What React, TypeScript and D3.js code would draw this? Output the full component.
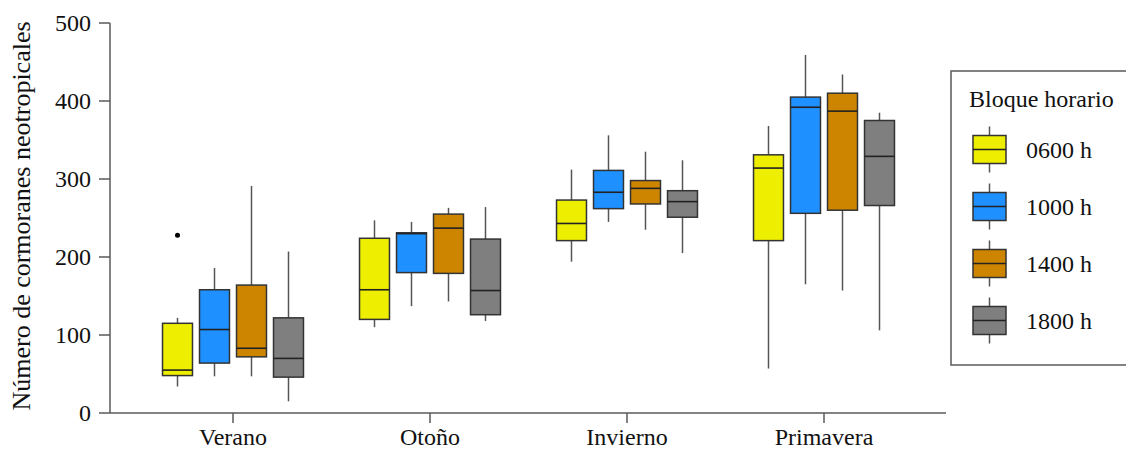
import React from "react";
import * as d3 from "d3";

const seasons = ["Verano", "Otoño", "Invierno", "Primavera"];
const blocks = ["0600 h", "1000 h", "1400 h", "1800 h"];
const colors = ["#EEEE00", "#1E90FF", "#CD8500", "#7F7F7F"];
const yTicks = [0, 100, 200, 300, 400, 500];

// per block: values per season [Verano, Otoño, Invierno, Primavera]
const low0600 = [34, 110, 194, 57];
const q1_0600 = [48, 120, 221, 221];
const med0600 = [55, 158, 243, 314];
const q3_0600 = [115, 224, 273, 331];
const high0600 = [122, 247, 312, 368];

const low1000 = [47, 137, 245, 165];
const q1_1000 = [64, 180, 262, 256];
const med1000 = [107, 230, 283, 392];
const q3_1000 = [158, 231, 311, 405];
const high1000 = [186, 245, 356, 459];

const low1400 = [47, 143, 235, 157];
const q1_1400 = [72, 179, 268, 260];
const med1400 = [83, 237, 288, 387];
const q3_1400 = [164, 255, 298, 410];
const high1400 = [291, 263, 335, 434];

const low1800 = [15, 118, 205, 106];
const q1_1800 = [46, 126, 251, 266];
const med1800 = [70, 157, 271, 329];
const q3_1800 = [122, 223, 285, 375];
const high1800 = [207, 264, 324, 385];

const outlierSeason = ["Verano"];
const outlierBlock = ["0600 h"];
const outlierValue = [228];

const stats = [
  [low0600, q1_0600, med0600, q3_0600, high0600],
  [low1000, q1_1000, med1000, q3_1000, high1000],
  [low1400, q1_1400, med1400, q3_1400, high1400],
  [low1800, q1_1800, med1800, q3_1800, high1800],
];

const FONT = "'Liberation Serif', 'Times New Roman', serif";

export default function App() {
  const W = 1126, H = 450;
  const y = d3.scaleLinear().domain([0, 500]).range([413, 23]);
  const x = d3.scaleBand<string>().domain(seasons).range([134.5, 922.5]).padding(0);
  const inner = d3.scaleBand<string>().domain(blocks).range([-74, 74]).paddingInner(0.19).paddingOuter(0.095);
  const bw = inner.bandwidth();
  const axisColor = "#5a5a5a";

  const boxes: any[] = [];
  blocks.forEach((b, bi) => {
    seasons.forEach((s, si) => {
      const [lo, q1, md, q3, hi] = stats[bi].map((a) => a[si]);
      const cx = (x(s) as number) + x.bandwidth() / 2 + (inner(b) as number) + bw / 2;
      boxes.push(
        <g key={b + s}>
          <line x1={cx} x2={cx} y1={y(hi)} y2={y(q3)} stroke="#555" strokeWidth={1.5} />
          <line x1={cx} x2={cx} y1={y(q1)} y2={y(lo)} stroke="#555" strokeWidth={1.5} />
          <rect x={cx - bw / 2} y={y(q3)} width={bw} height={y(q1) - y(q3)} fill={colors[bi]} stroke="#333" strokeWidth={1.5} />
          <line x1={cx - bw / 2} x2={cx + bw / 2} y1={y(md)} y2={y(md)} stroke="#222" strokeWidth={1.6} />
        </g>
      );
    });
  });

  const outliers = outlierValue.map((v, i) => {
    const cx = (x(outlierSeason[i]) as number) + x.bandwidth() / 2 + (inner(outlierBlock[i]) as number) + bw / 2;
    return <circle key={i} cx={cx} cy={y(v)} r={2.5} fill="#000" />;
  });

  const legendX = 951, legendY = 71;
  const itemY = d3.scaleBand<string>().domain(blocks).range([121, 349]);

  return (
    <svg width={W} height={H} style={{ position: "absolute", left: 0, top: 0, background: "#fff" }} fontFamily={FONT}>
      {/* y axis */}
      <line x1={110} x2={110} y1={y(500)} y2={y(0)} stroke={axisColor} strokeWidth={1.5} />
      {yTicks.map((t) => (
        <g key={t}>
          <line x1={99} x2={110} y1={y(t)} y2={y(t)} stroke={axisColor} strokeWidth={1.5} />
          <text x={91} y={y(t)} dy="0.34em" textAnchor="end" fontSize={24} fill="#111">{t}</text>
        </g>
      ))}
      <text transform={`translate(30, ${y(250) - 2}) rotate(-90)`} textAnchor="middle" fontSize={26} fill="#111">
        Número de cormoranes neotropicales
      </text>
      {/* x axis */}
      <line x1={110} x2={946} y1={y(0)} y2={y(0)} stroke={axisColor} strokeWidth={1.5} />
      {seasons.map((s) => {
        const cx = (x(s) as number) + x.bandwidth() / 2;
        return (
          <g key={s}>
            <line x1={cx} x2={cx} y1={y(0)} y2={y(0) + 10} stroke={axisColor} strokeWidth={1.5} />
            <text x={cx} y={445} textAnchor="middle" fontSize={24} fill="#111">{s}</text>
          </g>
        );
      })}
      {boxes}
      {outliers}
      {/* legend */}
      <rect x={legendX} y={legendY} width={200} height={294} fill="none" stroke={axisColor} strokeWidth={1.5} />
      <text x={969} y={107} fontSize={24} fill="#111">Bloque horario</text>
      {blocks.map((b, i) => {
        const cy = (itemY(b) as number) + itemY.bandwidth() / 2;
        return (
          <g key={b}>
            <line x1={989.5} x2={989.5} y1={cy - 23} y2={cy + 23} stroke="#555" strokeWidth={1.5} />
            <rect x={973} y={cy - 14} width={33} height={28} fill={colors[i]} stroke="#333" strokeWidth={1.5} />
            <line x1={973} x2={1006} y1={cy} y2={cy} stroke="#222" strokeWidth={1.6} />
            <text x={1026} y={cy} dy="0.34em" fontSize={24} fill="#111">{b}</text>
          </g>
        );
      })}
    </svg>
  );
}
